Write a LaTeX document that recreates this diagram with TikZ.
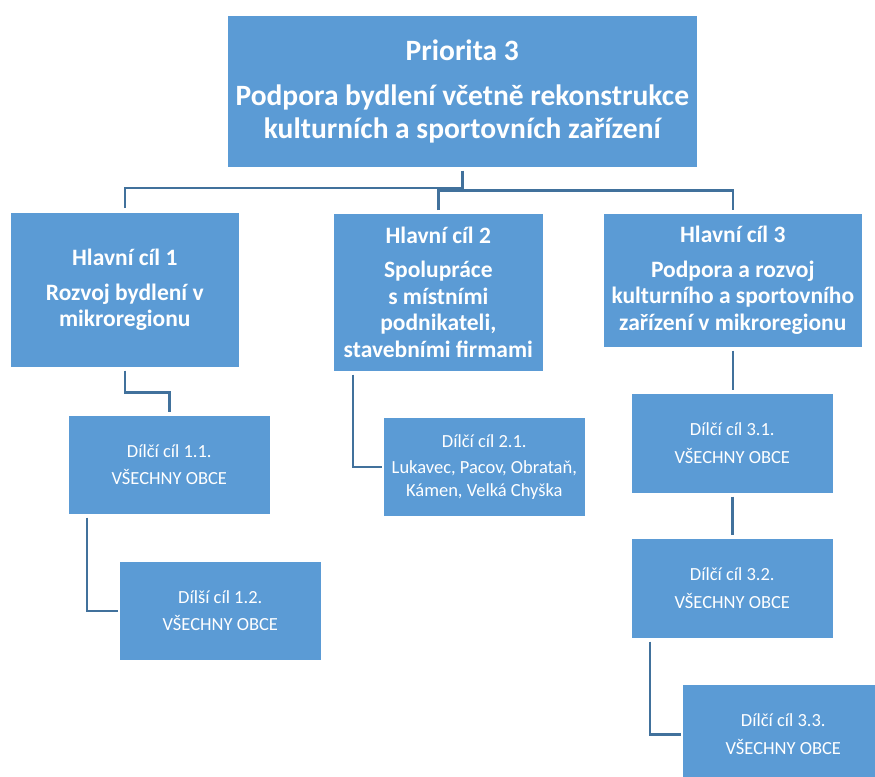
\documentclass[tikz,border=0pt]{standalone}
\usepackage{fontspec}
\setmainfont{Carlito}
\definecolor{boxblue}{HTML}{5B9BD5}
\definecolor{lineblue}{HTML}{41719C}
\tikzset{
  box/.style={draw=white, line width=0.6pt, fill=boxblue, text=white, inner sep=0pt, align=center, anchor=north west},
  topbox/.style={box, font=\bfseries\fontsize{29.5}{33}\selectfont},
  mainbox/.style={box, font=\bfseries\fontsize{23.5}{26.5}\selectfont},
  subbox/.style={box, font=\fontsize{18.5}{22.5}\selectfont},
  conn/.style={draw=lineblue, line width=2.6pt},
}
\begin{document}
\begin{tikzpicture}[x=1pt,y=-1pt]
\clip (0,0) rectangle (875,776);
\fill[white] (0,0) rectangle (875,776);
\node[topbox, minimum width=470pt, minimum height=152pt] (top) at (227,15)
  {Priorita 3\\[12pt]Podpora bydlení včetně rekonstrukce\\kulturních a sportovních zařízení};
\node[mainbox, minimum width=229pt, minimum height=155pt] (h1) at (10,212)
  {Hlavní cíl 1\\[8pt]Rozvoj bydlení v\\mikroregionu};
\node[mainbox, minimum width=210pt, minimum height=158pt] (h2) at (333,213)
  {Hlavní cíl 2\\[8pt]Spolupráce\\s místními\\podnikateli,\\stavebními firmami};
\node[mainbox, minimum width=259pt, minimum height=134pt] (h3) at (603,213)
  {Hlavní cíl 3\\[8pt]Podpora a rozvoj\\kulturního a sportovního\\zařízení v mikroregionu};
\node[subbox, minimum width=202pt, minimum height=99pt] (d11) at (68,415)
  {Dílčí cíl 1.1.\\[5pt]VŠECHNY OBCE};
\node[subbox, minimum width=202pt, minimum height=99pt] (d12) at (119,561)
  {Dílší cíl 1.2.\\[5pt]VŠECHNY OBCE};
\node[subbox, minimum width=202pt, minimum height=99pt] (d21) at (383,417)
  {Dílčí cíl 2.1.\\[4pt]Lukavec, Pacov, Obrataň,\\Kámen, Velká Chyška};
\node[subbox, minimum width=202pt, minimum height=100pt] (d31) at (631,393)
  {Dílčí cíl 3.1.\\[5pt]VŠECHNY OBCE};
\node[subbox, minimum width=202pt, minimum height=100pt] (d32) at (631,538)
  {Dílčí cíl 3.2.\\[5pt]VŠECHNY OBCE};
\node[subbox, minimum width=202pt, minimum height=100pt] (d33) at (682,684)
  {Dílčí cíl 3.3.\\[5pt]VŠECHNY OBCE};
\coordinate (yl) at (0,188);
\coordinate (yr) at (0,190.5);
\draw[conn] ([yshift=-3pt]top.south) -- (top.south |- yr);
\draw[conn, shorten <=4pt] (h1.north) |- (top.south |- yl);
\draw[conn, shorten <=3pt] (h2.north) |- (h3.north |- yr) -- ([yshift=3pt]h3.north);
\draw[conn, shorten <=3pt, shorten >=3pt] (h1.south) -- ++(0,25) -| (d11.north);
\draw[conn, shorten <=3pt, shorten >=1pt] ([xshift=19pt]d11.south west) |- (d12.west);
\draw[conn, shorten <=3pt, shorten >=1pt] ([xshift=20pt]h2.south west) |- (d21.west);
\draw[conn, shorten <=3pt, shorten >=3pt] (h3.south) -- (h3.south |- d31.north);
\draw[conn, shorten <=3pt, shorten >=3pt] (d31.south) -- (d32.north);
\draw[conn, shorten <=3pt, shorten >=1pt] ([xshift=19pt]d32.south west) |- (d33.west);
\end{tikzpicture}
\end{document}
